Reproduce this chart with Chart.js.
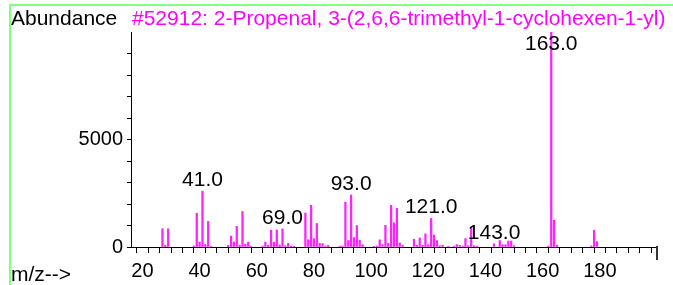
<!DOCTYPE html>
<html>
<head>
<meta charset="utf-8">
<script src="https://cdn.jsdelivr.net/npm/chart.js@4.4.1/dist/chart.umd.min.js"></script>
<style>
  body { margin: 0; background: #ffffff; }
  canvas { display: block; }
</style>
</head>
<body>
<canvas id="spectre" width="673" height="285"></canvas>
<script>
const mz = [27, 28, 29, 38, 39, 40, 41, 42, 43, 44,
    50, 51, 52, 53, 54, 55, 56, 57, 58, 62, 63, 64, 65, 66, 67, 68, 69, 70, 71, 72, 73,
    77, 78, 79, 80, 81, 82, 83, 84, 85, 89, 90, 91, 92, 93, 94, 95, 96, 97,
    101, 102, 103, 104, 105, 106, 107, 108, 109, 110, 111,
    115, 116, 117, 118, 119, 120, 121, 122, 123, 124, 125, 127, 129, 130, 131, 132, 133, 134, 135, 136, 137,
    143, 145, 146, 147, 148, 149, 150, 162, 163, 164, 165, 177, 178, 179];
const abondance = [850, 80, 850, 50, 1570, 230, 2600, 120, 1190, 30,
    80, 510, 230, 960, 90, 1650, 130, 230, 40, 40, 230, 80, 780, 220, 790, 100, 840, 60, 170, 40, 30,
    1580, 340, 1940, 390, 1090, 170, 160, 40, 80, 40, 40, 2090, 300, 2420, 440, 1000, 320, 110,
    30, 50, 330, 110, 1010, 170, 1940, 1130, 1800, 190, 80,
    360, 80, 420, 80, 610, 110, 1330, 560, 300, 60, 80, 30, 40, 110, 80, 40, 390, 60, 900, 60, 40,
    150, 300, 110, 110, 280, 280, 60, 40, 10000, 1240, 80, 50, 780, 250];
const picsMarques = [41, 69, 93, 121, 143, 163];
const yTicks = [0, 1000, 2000, 3000, 4000, 5000, 6000, 7000, 8000, 9000];
const yLabels = [0, 5000];
const xLabels = [20, 40, 60, 80, 100, 120, 140, 160, 180];
const titre = '#52912: 2-Propenal, 3-(2,6,6-trimethyl-1-cyclohexen-1-yl)';

const police = '21px "Liberation Sans", Arial, sans-serif';

const decor = {
    id: 'decor',
    afterDraw(chart) {
        const ctx = chart.ctx;
        const x = chart.scales.x;
        const y = chart.scales.y;
        ctx.save();
        // cadre vert
        ctx.fillStyle = '#80ff80';
        ctx.fillRect(10, 4, 663, 2);
        ctx.fillRect(9, 4, 2, 281);

        // fin de l'axe x
        ctx.fillStyle = '#333333';
        const xFin = Math.round(x.getPixelForValue(200));
        ctx.fillRect(xFin - 1, y.bottom - 1, 2, 14);

        ctx.font = police;
        ctx.textBaseline = 'alphabetic';
        ctx.textAlign = 'left';
        ctx.fillStyle = '#000000';
        ctx.fillText('Abundance', 11, 25);
        ctx.fillText('m/z-->', 11, 281);
        ctx.fillStyle = '#ff00ff';
        ctx.fillText(titre, 132, 25);

        // étiquettes des pics
        ctx.fillStyle = '#000000';
        ctx.textAlign = 'center';
        picsMarques.forEach(p => {
            const i = mz.indexOf(p);
            const px = x.getPixelForValue(p);
            const py = y.getPixelForValue(abondance[i]);
            const base = Math.max(py - 5, 50);
            ctx.fillText(p.toFixed(1), px, base);
        });
        ctx.restore();
    }
};

const ctx = document.getElementById('spectre').getContext('2d');

new Chart(ctx, {
    type: 'bar',
    data: {
        datasets: [{
            data: mz.map((m, i) => ({ x: m, y: abondance[i] })),
            backgroundColor: '#ff22ff',
            barThickness: 1.6,
            borderWidth: 0
        }]
    },
    options: {
        responsive: false,
        animation: false,
        devicePixelRatio: 1,
        layout: { padding: { top: 32, right: 16, left: 0, bottom: 0 } },
        plugins: {
            legend: { display: false },
            tooltip: { enabled: false }
        },
        scales: {
            x: {
                type: 'linear',
                min: 16,
                max: 200,
                offset: false,
                afterFit: s => { s.height = 38; },
                ticks: {
                    stepSize: 4,
                    autoSkip: false,
                    maxRotation: 0,
                    padding: 6,
                    color: '#000000',
                    font: { family: '"Liberation Sans", Arial, sans-serif', size: 20 },
                    callback: v => xLabels.includes(v) ? String(v) : ''
                },
                grid: {
                    drawOnChartArea: false,
                    drawTicks: true,
                    tickLength: 6,
                    color: '#000000'
                },
                border: { color: '#000000', width: 1 }
            },
            y: {
                min: 0,
                max: 10000,
                afterFit: s => { s.width = 131; },
                afterBuildTicks: s => { s.ticks = yTicks.map(v => ({ value: v })); },
                ticks: {
                    autoSkip: false,
                    padding: 4,
                    color: '#000000',
                    font: { family: '"Liberation Sans", Arial, sans-serif', size: 20 },
                    callback: v => yLabels.includes(v) ? String(v) : ''
                },
                grid: {
                    drawOnChartArea: false,
                    drawTicks: true,
                    tickLength: 4,
                    color: '#000000'
                },
                border: { color: '#000000', width: 1 }
            }
        }
    },
    plugins: [decor]
});
</script>
</body>
</html>
